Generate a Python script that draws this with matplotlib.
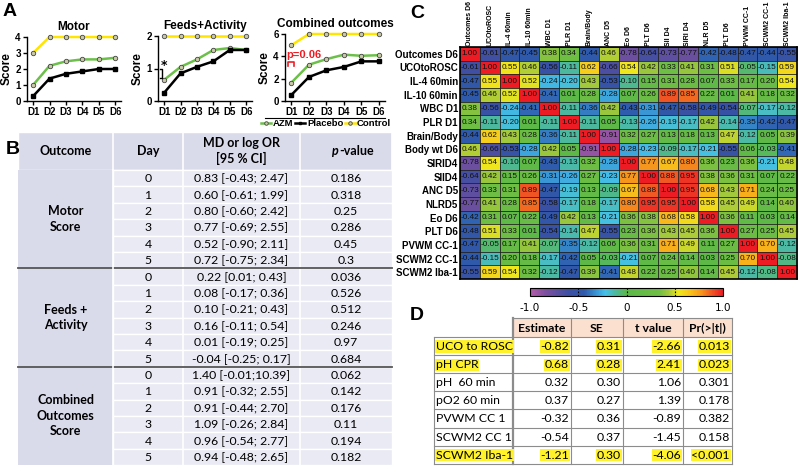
import numpy as np
import matplotlib
matplotlib.use('Agg')
import matplotlib.pyplot as plt
from matplotlib import font_manager
from matplotlib.colors import LinearSegmentedColormap
from matplotlib.patches import Rectangle

# ---- panel A data
days = ['D1', 'D2', 'D3', 'D4', 'D5', 'D6']
motor_azm = [1.0, 2.2, 2.48, 2.6, 2.6, 2.7]
motor_placebo = [0.3, 1.4, 1.7, 1.85, 2.0, 2.0]
motor_control = [3, 4, 4, 4, 4, 4]
feeds_azm = [0.65, 1.05, 1.28, 1.57, 1.63, 1.57]
feeds_placebo = [0.25, 0.85, 1.05, 1.22, 1.57, 1.57]
feeds_control = [2, 2, 2, 2, 2, 2]
comb_azm = [1.65, 3.25, 3.75, 4.15, 4.05, 4.1]
comb_placebo = [0.55, 2.15, 2.75, 3.05, 3.55, 3.55]
comb_control = [5, 6, 6, 6, 6, 6]

# ---- panel B data
b_outcomes = ['Motor\nScore', 'Feeds +\nActivity', 'Combined\nOutcomes\nScore']
b_days = ['0', '1', '2', '3', '4', '5']
b_md = ['0.83 [-0.43; 2.47]', '0.60 [-0.61; 1.99]', '0.80 [-0.60; 2.42]',
        '0.77 [-0.69; 2.55]', '0.52 [-0.90; 2.11]', '0.72 [-0.75; 2.34]',
        '0.22 [0.01; 0.43]', '0.08 [-0.17; 0.36]', '0.10 [-0.21; 0.43]',
        '0.16 [-0.11; 0.54]', '0.01 [-0.19; 0.25]', '-0.04 [-0.25; 0.17]',
        '1.40 [-0.01;10.39]', '0.91 [-0.32; 2.55]', '0.91 [-0.44; 2.70]',
        '1.09 [-0.26; 2.84]', '0.96 [-0.54; 2.77]', '0.94 [-0.48; 2.65]']
b_p = ['0.186', '0.318', '0.25', '0.286', '0.45', '0.3',
       '0.036', '0.526', '0.512', '0.246', '0.97', '0.684',
       '0.062', '0.142', '0.176', '0.11', '0.194', '0.182']

# ---- panel C data
c_cols = ['Outcomes D6', 'UCOtoROSC', 'IL-4 60min', 'IL-10 60min', 'WBC D1', 'PLR D1',
          'Brain/Body', 'ANC D5', 'Eo D6', 'PLT D6', 'SII D4', 'SIRI D4', 'NLR D5',
          'PLT D6', 'PVWM CC-1', 'SCWM2 CC-1', 'SCWM2 Iba-1']
c_rows = ['Outcomes D6', 'UCOtoROSC', 'IL-4 60min', 'IL-10 60min', 'WBC D1', 'PLR D1',
          'Brain/Body', 'Body wt D6', 'SIRID4', 'SIID4', 'ANC D5', 'NLRD5', 'Eo D6',
          'PLT D6', 'PVWM CC-1', 'SCWM2 CC-1', 'SCWM2 Iba-1']
corr = np.array([
    [1.00, -0.61, -0.47, -0.45, 0.38, 0.34, -0.44, 0.46, -0.78, -0.64, -0.73, -0.77, -0.42, -0.48, -0.47, -0.44, -0.55],
    [-0.61, 1.00, 0.55, 0.46, -0.56, -0.11, 0.62, -0.66, 0.54, 0.42, 0.33, 0.41, 0.31, 0.51, -0.05, -0.15, 0.59],
    [-0.47, 0.55, 1.00, 0.52, -0.24, -0.20, 0.43, -0.53, -0.10, 0.15, 0.31, 0.28, 0.07, 0.33, 0.17, 0.20, 0.54],
    [-0.45, 0.46, 0.52, 1.00, -0.41, 0.01, 0.28, -0.28, 0.07, 0.26, 0.89, 0.85, 0.22, 0.01, 0.41, 0.18, 0.32],
    [0.38, -0.56, -0.24, -0.41, 1.00, -0.11, -0.36, 0.42, -0.43, -0.31, -0.47, -0.58, -0.49, -0.54, -0.07, -0.17, -0.12],
    [0.34, -0.11, -0.20, 0.01, -0.11, 1.00, -0.11, 0.05, -0.13, -0.26, -0.19, -0.17, 0.42, -0.14, -0.35, -0.42, -0.47],
    [-0.44, 0.62, 0.43, 0.28, -0.36, -0.11, 1.00, -0.91, 0.32, 0.27, 0.13, 0.18, 0.13, 0.47, -0.12, 0.05, 0.39],
    [0.46, -0.66, -0.53, -0.28, 0.42, 0.05, -0.91, 1.00, -0.28, -0.23, -0.09, -0.17, -0.21, -0.55, 0.06, -0.03, -0.41],
    [-0.78, 0.54, -0.10, 0.07, -0.43, -0.13, 0.32, -0.28, 1.00, 0.77, 0.67, 0.80, 0.36, 0.23, 0.36, -0.21, 0.48],
    [-0.64, 0.42, 0.15, 0.26, -0.31, -0.26, 0.27, -0.23, 0.77, 1.00, 0.88, 0.95, 0.38, 0.36, 0.31, 0.07, 0.22],
    [-0.73, 0.33, 0.31, 0.89, -0.47, -0.19, 0.13, -0.09, 0.67, 0.88, 1.00, 0.95, 0.68, 0.43, 0.71, 0.24, 0.25],
    [-0.77, 0.41, 0.28, 0.85, -0.58, -0.17, 0.18, -0.17, 0.80, 0.95, 0.95, 1.00, 0.58, 0.45, 0.49, 0.14, 0.40],
    [-0.42, 0.31, 0.07, 0.22, -0.49, 0.42, 0.13, -0.21, 0.36, 0.38, 0.68, 0.58, 1.00, 0.36, 0.11, 0.03, 0.14],
    [-0.48, 0.51, 0.33, 0.01, -0.54, -0.14, 0.47, -0.55, 0.23, 0.36, 0.43, 0.45, 0.36, 1.00, 0.27, 0.25, 0.45],
    [-0.47, -0.05, 0.17, 0.41, -0.07, -0.35, -0.12, 0.06, 0.36, 0.31, 0.71, 0.49, 0.11, 0.27, 1.00, 0.70, -0.12],
    [-0.44, -0.15, 0.20, 0.18, -0.17, -0.42, 0.05, -0.03, -0.21, 0.07, 0.24, 0.14, 0.03, 0.25, 0.70, 1.00, -0.08],
    [-0.55, 0.59, 0.54, 0.32, -0.12, -0.47, 0.39, -0.41, 0.48, 0.22, 0.25, 0.40, 0.14, 0.45, -0.12, -0.08, 1.00],
])

# ---- panel D data
d_vars = ['UCO to ROSC', 'pH CPR', 'pH  60 min', 'pO2 60 min', 'PVWM CC 1', 'SCWM2 CC 1', 'SCWM2 Iba-1']
d_head = ['Estimate', 'SE', 't value', 'Pr(>|t|)']
d_est = ['-0.82', '0.68', '0.32', '0.37', '-0.32', '-0.54', '-1.21']
d_se = ['0.31', '0.28', '0.30', '0.27', '0.36', '0.37', '0.30']
d_t = ['-2.66', '2.41', '1.06', '1.39', '-0.89', '-1.45', '-4.06']
d_p = ['0.013', '0.023', '0.301', '0.178', '0.382', '0.158', '<0.001']
d_highlight = [True, True, False, False, False, False, True]

W, H = 800, 472
fig = plt.figure(figsize=(8, 4.72), dpi=100)
ARIAL = 'Liberation Sans'
CAL = 'Lato'

installed = {f.name for f in font_manager.fontManager.ttflist}
if 'Liberation Sans Narrow' in installed:
    col_font, col_size = 'Liberation Sans Narrow', 5.7
else:
    col_font, col_size = ARIAL, 5.0


def box(x0, y0, x1, y1):
    return [x0 / W, 1 - y1 / H, (x1 - x0) / W, (y1 - y0) / H]


# canvas in pixel coords for tables / labels
cv = fig.add_axes([0, 0, 1, 1])
cv.set_xlim(0, W)
cv.set_ylim(H, 0)
cv.axis('off')

for lab, (x, y) in zip('ABCD', [(3, 12), (6, 150), (410, 14), (410, 316)]):
    cv.text(x, y, lab, fontsize=14, fontweight='bold', family=ARIAL, va='center')

# ---------------- panel A
green, yellow = '#6cc04a', '#ffe500'
mk = dict(marker='o', ms=3.2, mfc='#c9c9a8', mec='#444444', mew=0.6, clip_on=False)
panels = [
    ('Motor', motor_azm, motor_placebo, motor_control, 4, [0, 1, 2, 3, 4], (27, 37, 121, 101)),
    ('Feeds+Activity', feeds_azm, feeds_placebo, feeds_control, 2, [0, 1, 2], (158, 36, 252, 101)),
    ('Combined outcomes', comb_azm, comb_placebo, comb_control, 6, [0, 2, 4, 6], (285, 34, 385, 101)),
]
x = np.arange(1, 7)
for title, azm, pla, ctl, ymax, yt, bb in panels:
    ax = fig.add_axes(box(*bb))
    ax.plot(x, ctl, color=yellow, lw=1.8, label='Control', **mk)
    ax.plot(x, azm, color=green, lw=1.8, label='AZM', **mk)
    ax.plot(x, pla, color='black', lw=1.8, marker='s', ms=2.5, label='Placebo', clip_on=False)
    ax.set_xlim(0.63, 6.35)
    ax.set_ylim(0, ymax)
    ax.set_yticks(yt)
    ax.set_xticks(x)
    ax.set_xticklabels(days)
    for s in ['top', 'right']:
        ax.spines[s].set_visible(False)
    for s in ['left', 'bottom']:
        ax.spines[s].set_linewidth(1.0)
    ax.tick_params(length=3, width=1, pad=1.5, labelsize=7)
    for t in ax.get_xticklabels() + ax.get_yticklabels():
        t.set_fontweight('bold')
        t.set_family(ARIAL)
    ax.set_ylabel('Score', fontsize=8.5, fontweight='bold', family=ARIAL, labelpad=2)
    ax.set_title(title, fontsize=8.5, fontweight='bold', family=ARIAL, pad=5)
    if title == 'Feeds+Activity':
        ax.plot([0.78, 0.9, 0.9, 0.78], [0.72, 0.72, 0.98, 0.98], color='black', lw=1)
        ax.text(0.98, 1.1, '*', fontsize=9, fontweight='bold', ha='center', va='center')
    if title == 'Combined outcomes':
        ax.plot([0.8, 0.8, 1.15, 1.15], [3.1, 3.45, 3.45, 3.1], color='#ee1c24', lw=1.2)
        ax.text(0.72, 4.15, 'p=0.06', color='#ee1c24', fontsize=8, fontweight='bold',
                family=ARIAL, ha='left', va='center', zorder=5)
        hl = ax.get_legend_handles_labels()

handles, labels = hl
order = [1, 2, 0]
fig.legend([handles[i] for i in order], [labels[i] for i in order], loc='center',
           bbox_to_anchor=(326 / W, 1 - 124 / H), ncol=3, frameon=False, handlelength=1.1,
           handletextpad=0.15, columnspacing=0.2, prop={'family': ARIAL, 'weight': 'bold', 'size': 6.8},
           markerscale=0.8)
cv.plot([265, 385], [117.5, 117.5], color='black', lw=0.8)

# ---------------- panel B table
bx = [18, 113, 183, 300, 392]
hy0, hy1 = 132, 170
rh = 16.4
c_head = '#d9dbeb'
c_cell = '#e9eaf3'
cv.add_patch(Rectangle((bx[0], hy0), bx[-1] - bx[0], hy1 - hy0, fc=c_head, ec='white', lw=1))
for i in range(4):
    cv.plot([bx[i + 1], bx[i + 1]], [hy0, hy1], color='white', lw=1.2)
cv.text((bx[0] + bx[1]) / 2, (hy0 + hy1) / 2, 'Outcome', ha='center', va='center',
        fontsize=9, fontweight='bold', family=CAL)
cv.text((bx[1] + bx[2]) / 2, (hy0 + hy1) / 2, 'Day', ha='center', va='center',
        fontsize=9, fontweight='bold', family=CAL)
cv.text((bx[2] + bx[3]) / 2, (hy0 + hy1) / 2, 'MD or log OR\n[95 % CI]', ha='center',
        va='center', fontsize=9, fontweight='bold', family=CAL, linespacing=1.3)
cv.text(339, (hy0 + hy1) / 2, 'p', ha='right', va='center', fontsize=9, fontweight='bold',
        style='italic', family=CAL)
cv.text(339, (hy0 + hy1) / 2, '-value', ha='left', va='center', fontsize=9, fontweight='bold',
        family=CAL)
for g, name in enumerate(b_outcomes):
    gy0 = hy1 + g * 6 * rh
    cv.add_patch(Rectangle((bx[0], gy0), bx[1] - bx[0], 6 * rh, fc=c_head, ec='none'))
    cv.text((bx[0] + bx[1]) / 2, gy0 + 3 * rh, name, ha='center', va='center', fontsize=9,
            fontweight='bold', family=CAL, linespacing=1.35)
    for r in range(6):
        k = g * 6 + r
        y0 = gy0 + r * rh
        cv.add_patch(Rectangle((bx[1], y0), bx[-1] - bx[1], rh, fc=c_cell, ec='white', lw=1))
        yc = y0 + rh / 2 + 0.5
        cv.text((bx[1] + bx[2]) / 2, yc, b_days[r], ha='center', va='center', fontsize=8.8, family=CAL)
        cv.text((bx[2] + bx[3]) / 2, yc, b_md[k], ha='center', va='center', fontsize=8.8, family=CAL)
        cv.text((bx[3] + bx[4]) / 2, yc, b_p[k], ha='center', va='center', fontsize=8.8, family=CAL)
    for i in (2, 3):
        cv.plot([bx[i], bx[i]], [gy0, gy0 + 6 * rh], color='white', lw=1.2)
    if g > 0:
        cv.plot([bx[0], bx[-1]], [gy0, gy0], color='#555555', lw=1.3)
cv.plot([bx[1], bx[1]], [hy1, hy1 + 18 * rh], color='white', lw=1.2)

# ---------------- panel C heatmap
cmap = LinearSegmentedColormap.from_list('corr', [
    (0.0, '#b25ca9'), (0.08, '#7c4f9f'), (0.2, '#3c4fa2'), (0.28, '#2f5aab'),
    (0.35, '#3b9bd8'), (0.39, '#46c1e9'), (0.44, '#4cb9a2'), (0.5, '#5cb848'),
    (0.67, '#6fbe45'), (0.72, '#a5c93b'), (0.77, '#efe81c'), (0.83, '#f9c21a'),
    (0.89, '#f7941d'), (0.94, '#f15a24'), (1.0, '#ed1c24')])
hx = fig.add_axes(box(460, 47, 797, 279))
hx.imshow(corr, cmap=cmap, vmin=-1, vmax=1, aspect='auto', interpolation='nearest')
nr, nc = corr.shape
for i in range(nr):
    for j in range(nc):
        hx.text(j, i, '%.2f' % corr[i, j], ha='center', va='center', fontsize=5.9,
                family=ARIAL, color='#111111')
hx.set_xticks(np.arange(nc))
hx.set_yticks(np.arange(nr))
hx.set_xticklabels(c_cols, rotation=90, fontsize=col_size, fontweight='bold', family=col_font)
hx.set_yticklabels(c_rows, fontsize=7, fontweight='bold', family=ARIAL)
hx.xaxis.tick_top()
hx.tick_params(axis='y', length=0, pad=1.5)
hx.tick_params(axis='x', length=0, pad=1)
hx.set_xticks(np.arange(-0.5, nc), minor=True)
hx.set_yticks(np.arange(-0.5, nr), minor=True)
hx.grid(which='minor', color='#222222', lw=0.6)
hx.tick_params(which='minor', length=0)
for s in hx.spines.values():
    s.set_linewidth(1.2)

cax = fig.add_axes(box(530, 288, 723, 296))
sm = matplotlib.cm.ScalarMappable(cmap=cmap, norm=matplotlib.colors.Normalize(-1, 1))
cb = fig.colorbar(sm, cax=cax, orientation='horizontal')
cb.set_ticks([-1, -0.5, 0, 0.5, 1])
cb.set_ticklabels(['-1.0', '-0.5', '0', '0.5', '1.0'])
cax.tick_params(length=0, pad=5, labelsize=7.5)
for v in (-0.5, 0, 0.5):
    cax.axvline(v, color='black', lw=0.8, ls=(0, (1.5, 1.5)))
cb.outline.set_linewidth(0.8)

# ---------------- panel D table
dx = [434, 513, 571, 623, 683, 732]
dh0, dh1 = 318, 337
drh = 18.1
lc = '#8c8c8c'
cv.add_patch(Rectangle((dx[1], dh0), dx[-1] - dx[1], dh1 - dh0, fc='#fbdfcf', ec='none'))
for i, h in enumerate(d_head):
    cv.text((dx[i + 1] + dx[i + 2]) / 2, (dh0 + dh1) / 2 + 0.5, h, ha='center', va='center',
            fontsize=8.8, fontweight='bold', family=CAL)
cv.plot([dx[1], dx[-1]], [dh0, dh0], color=lc, lw=0.8)
ybot = dh1 + len(d_vars) * drh
for i in range(1, 6):
    cv.plot([dx[i], dx[i]], [dh0, ybot], color=lc, lw=1.6 if i == 1 else 0.8)
cv.plot([dx[0], dx[0]], [dh1, ybot], color=lc, lw=0.8)
hl_box = dict(boxstyle='square,pad=0.05', fc='#fff22a', ec='none')
for r, name in enumerate(d_vars):
    y0 = dh1 + r * drh
    cv.plot([dx[0], dx[-1]], [y0, y0], color=lc, lw=0.8)
    yc = y0 + drh / 2 + 0.5
    bb = hl_box if d_highlight[r] else None
    cv.text(dx[0] + 2, yc, name, ha='left', va='center', fontsize=8.8, family=CAL, bbox=bb)
    for i, col in enumerate([d_est, d_se, d_t, d_p]):
        cv.text(dx[i + 2] - 2, yc, col[r], ha='right', va='center', fontsize=8.8, family=CAL, bbox=bb)
cv.plot([dx[0], dx[-1]], [ybot, ybot], color=lc, lw=0.8)

fig.savefig('out.png', dpi=100)
